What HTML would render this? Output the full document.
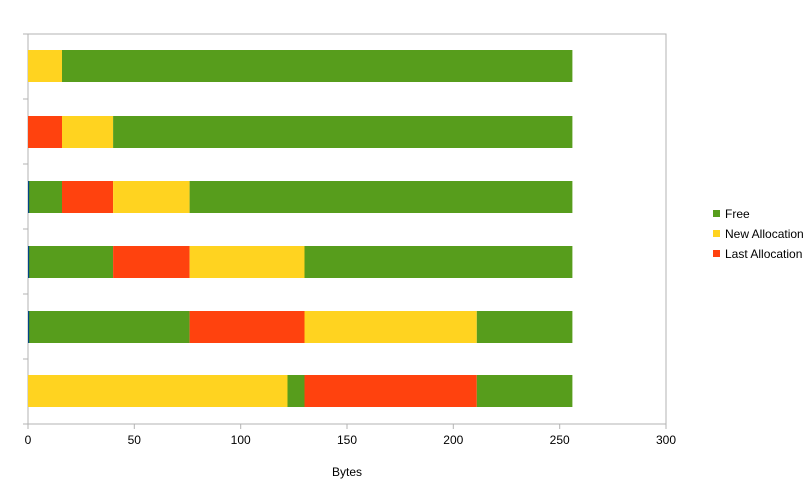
<!DOCTYPE html><html><head><style>body{margin:0;background:#fff}</style></head><body>
<svg width="811" height="489" xmlns="http://www.w3.org/2000/svg" font-family="Liberation Sans, sans-serif">
<rect x="28" y="34" width="638" height="390" fill="#fff" stroke="#b3b3b3"/>
<g stroke="#b3b3b3">
<line x1="23" y1="34" x2="28" y2="34"/><line x1="23" y1="99" x2="28" y2="99"/><line x1="23" y1="164" x2="28" y2="164"/><line x1="23" y1="229" x2="28" y2="229"/><line x1="23" y1="294" x2="28" y2="294"/><line x1="23" y1="359" x2="28" y2="359"/><line x1="23" y1="424" x2="28" y2="424"/>
<line x1="28" y1="424" x2="28" y2="429"/><line x1="134.3" y1="424" x2="134.3" y2="429"/><line x1="240.7" y1="424" x2="240.7" y2="429"/><line x1="347" y1="424" x2="347" y2="429"/><line x1="453.3" y1="424" x2="453.3" y2="429"/><line x1="559.7" y1="424" x2="559.7" y2="429"/><line x1="666" y1="424" x2="666" y2="429"/>
</g>
<g>
<!-- row1 -->
<rect x="28" y="50" width="34" height="32" fill="#ffd320"/><rect x="62" y="50" width="510.4" height="32" fill="#579d1c"/>
<!-- row2 -->
<rect x="28" y="116" width="34" height="32" fill="#ff420e"/><rect x="62" y="116" width="51.1" height="32" fill="#ffd320"/><rect x="113.1" y="116" width="459.3" height="32" fill="#579d1c"/>
<!-- row3 -->
<rect x="28" y="181" width="34" height="32" fill="#579d1c"/><rect x="62" y="181" width="51.1" height="32" fill="#ff420e"/><rect x="113.1" y="181" width="76.5" height="32" fill="#ffd320"/><rect x="189.6" y="181" width="382.8" height="32" fill="#579d1c"/>
<!-- row4 -->
<rect x="28" y="246" width="85.1" height="32" fill="#579d1c"/><rect x="113.1" y="246" width="76.5" height="32" fill="#ff420e"/><rect x="189.6" y="246" width="114.9" height="32" fill="#ffd320"/><rect x="304.5" y="246" width="267.9" height="32" fill="#579d1c"/>
<!-- row5 -->
<rect x="28" y="311" width="161.6" height="32" fill="#579d1c"/><rect x="189.6" y="311" width="114.9" height="32" fill="#ff420e"/><rect x="304.5" y="311" width="172.3" height="32" fill="#ffd320"/><rect x="476.8" y="311" width="95.6" height="32" fill="#579d1c"/>
<!-- row6 -->
<rect x="28" y="375" width="259.5" height="32" fill="#ffd320"/><rect x="287.5" y="375" width="17" height="32" fill="#579d1c"/><rect x="304.5" y="375" width="172.3" height="32" fill="#ff420e"/><rect x="476.8" y="375" width="95.6" height="32" fill="#579d1c"/>
<rect x="28" y="181" width="1.2" height="32" fill="#004586"/><rect x="28" y="246" width="1.2" height="32" fill="#004586"/><rect x="28" y="311" width="1.2" height="32" fill="#004586"/>
</g>
<g font-size="12" text-anchor="middle" fill="#000">
<text x="28" y="444">0</text><text x="134.3" y="444">50</text><text x="240.7" y="444">100</text><text x="347" y="444">150</text><text x="453.3" y="444">200</text><text x="559.7" y="444">250</text><text x="666" y="444">300</text>
<text x="347" y="476">Bytes</text>
</g>
<g font-size="12">
<rect x="713" y="210" width="7" height="7" fill="#579d1c"/><text x="725" y="218">Free</text>
<rect x="713" y="230" width="7" height="7" fill="#ffd320"/><text x="725" y="238">New Allocation</text>
<rect x="713" y="250" width="7" height="7" fill="#ff420e"/><text x="725" y="258">Last Allocation</text>
</g>
</svg></body></html>
